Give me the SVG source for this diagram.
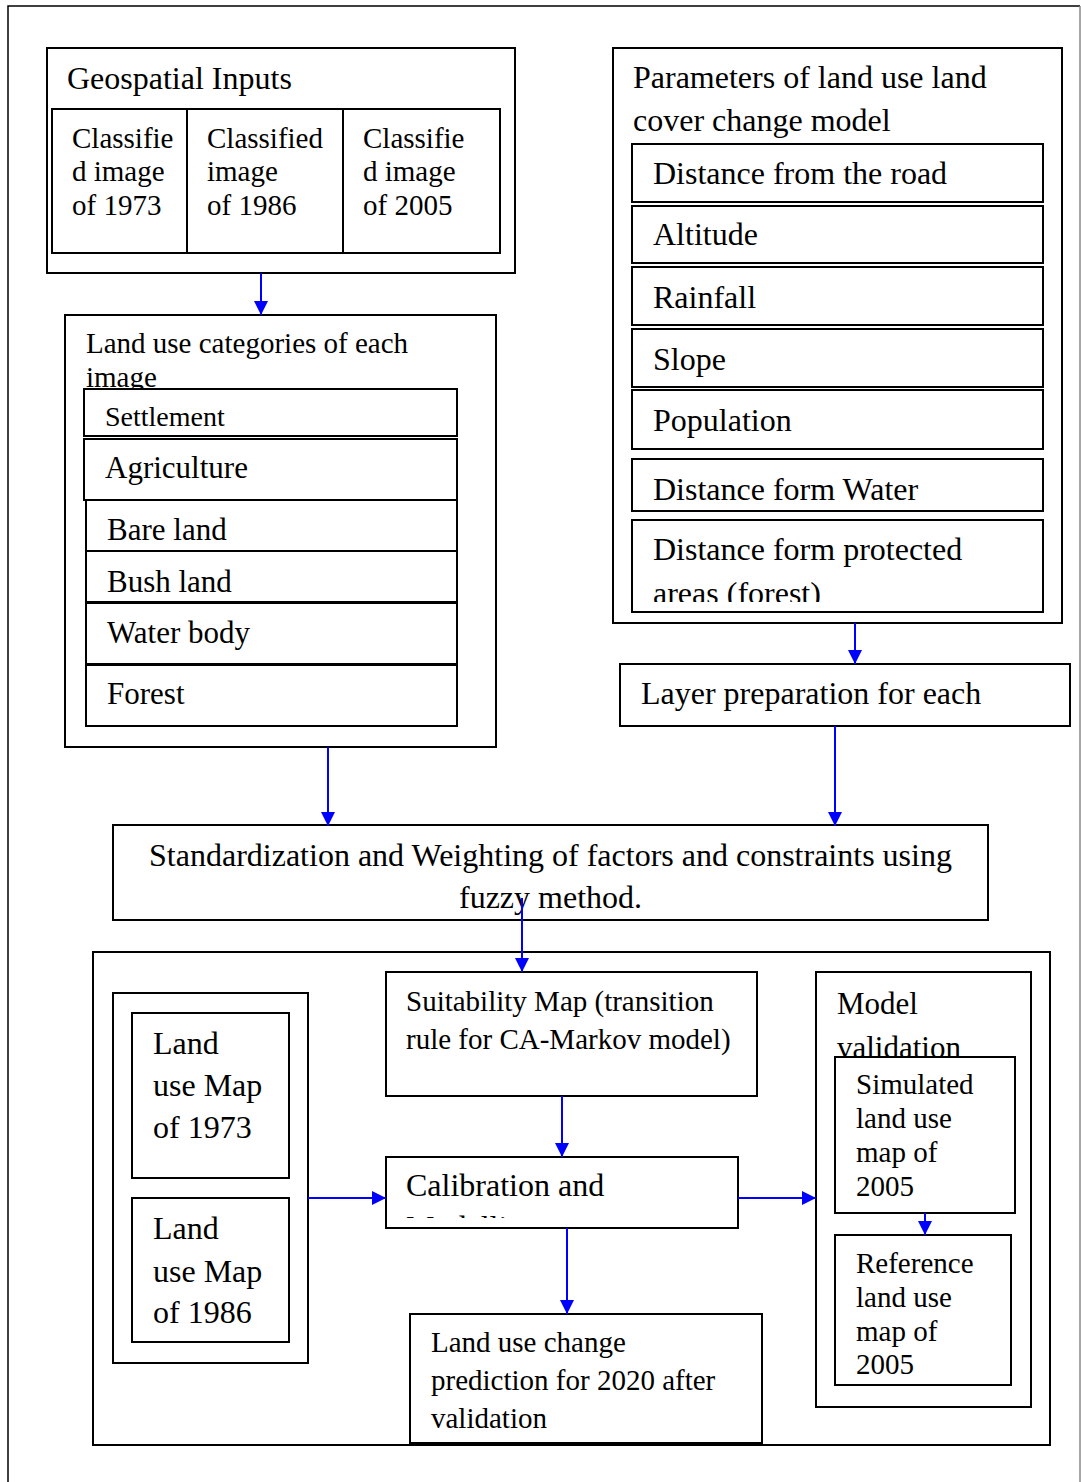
<svg xmlns="http://www.w3.org/2000/svg" width="1081" height="1482" viewBox="0 0 1081 1482" font-family="'Liberation Serif', 'Times New Roman', serif">
<style>
text{font-family:"Liberation Serif","Times New Roman",serif;fill:#000}
.f28{font-size:28px}.f29{font-size:29px}.f31{font-size:31px}.f32{font-size:32px}
.b{fill:#fff;stroke:#000;stroke-width:2}
.c{stroke:#0000ff;stroke-width:2;fill:none;marker-end:url(#ah)}
</style>
<defs>
<marker id="ah" markerUnits="userSpaceOnUse" markerWidth="14" markerHeight="14" refX="14" refY="7" orient="auto">
<path d="M0,0 L14,7 L0,14 z" fill="#0000ff"/>
</marker>
<clipPath id="clipForest"><rect x="630" y="520" width="415" height="82"/></clipPath>
<clipPath id="clipCal"><rect x="386" y="1157" width="352" height="61"/></clipPath>
</defs>
<rect width="1081" height="1482" fill="#fff"/>
<path d="M8,1490 V6 H1080" fill="none" stroke="#000" stroke-width="1.5"/>
<path d="M1080,6 V1490" fill="none" stroke="#888" stroke-width="1.5"/>

<g id="geospatial-inputs">
<rect class="b" x="47" y="48" width="468" height="225"/>
<text class="f32" x="67" y="89">Geospatial Inputs</text>
<rect class="b" x="52" y="109" width="135" height="144"/>
<rect class="b" x="187" y="109" width="156" height="144"/>
<rect class="b" x="343" y="109" width="157" height="144"/>
<text class="f29" x="72" y="148">Classifie</text>
<text class="f29" x="72" y="181">d image</text>
<text class="f29" x="72" y="215">of 1973</text>
<text class="f29" x="207" y="148">Classified</text>
<text class="f29" x="207" y="181">image</text>
<text class="f29" x="207" y="215">of 1986</text>
<text class="f29" x="363" y="148">Classifie</text>
<text class="f29" x="363" y="181">d image</text>
<text class="f29" x="363" y="215">of 2005</text>
</g>

<g id="land-use-categories">
<rect class="b" x="65" y="315" width="431" height="432"/>
<text class="f29" x="86" y="353">Land use categories of each</text>
<text class="f29" x="86" y="387">image</text>
<rect class="b" x="84" y="389" width="373" height="47"/>
<text class="f28" x="105" y="426">Settlement</text>
<rect class="b" x="84" y="439" width="373" height="61"/>
<text class="f31" x="105" y="478">Agriculture</text>
<rect class="b" x="86" y="500" width="371" height="51"/>
<text class="f31" x="107" y="540">Bare land</text>
<rect class="b" x="86" y="551" width="371" height="51"/>
<text class="f31" x="107" y="592">Bush land</text>
<rect class="b" x="86" y="603" width="371" height="61"/>
<text class="f31" x="107" y="643">Water body</text>
<rect class="b" x="86" y="665" width="371" height="61"/>
<text class="f31" x="107" y="704">Forest</text>
</g>

<g id="parameters">
<rect class="b" x="613" y="48" width="449" height="575"/>
<text class="f32" x="633" y="88">Parameters of land use land</text>
<text class="f32" x="633" y="131">cover change model</text>
<rect class="b" x="632" y="144" width="411" height="58"/>
<text class="f32" x="653" y="184">Distance from the road</text>
<rect class="b" x="632" y="206" width="411" height="57"/>
<text class="f32" x="653" y="245">Altitude</text>
<rect class="b" x="632" y="267" width="411" height="58"/>
<text class="f32" x="653" y="308">Rainfall</text>
<rect class="b" x="632" y="329" width="411" height="58"/>
<text class="f32" x="653" y="370">Slope</text>
<rect class="b" x="632" y="390" width="411" height="59"/>
<text class="f32" x="653" y="431">Population</text>
<rect class="b" x="632" y="459" width="411" height="52"/>
<text class="f32" x="653" y="500">Distance form Water</text>
<rect class="b" x="632" y="520" width="411" height="92"/>
<text class="f32" x="653" y="560">Distance form protected</text>
<text class="f32" x="653" y="604" clip-path="url(#clipForest)">areas (forest)</text>
</g>

<g id="layer-preparation">
<rect class="b" x="620" y="664" width="450" height="62"/>
<text class="f32" x="641" y="704">Layer preparation for each</text>
</g>

<g id="standardization">
<rect class="b" x="113" y="825" width="875" height="95"/>
<text class="f32" x="550.5" y="866" text-anchor="middle">Standardization and Weighting of factors and constraints using</text>
<text class="f32" x="550.5" y="908" text-anchor="middle">fuzzy method.</text>
</g>

<g id="modelling-frame">
<rect class="b" x="93" y="952" width="957" height="493"/>
</g>

<g id="land-use-maps">
<rect class="b" x="113" y="993" width="195" height="370"/>
<rect class="b" x="132" y="1013" width="157" height="165"/>
<text class="f32" x="153" y="1054">Land</text>
<text class="f32" x="153" y="1096">use Map</text>
<text class="f32" x="153" y="1138">of 1973</text>
<rect class="b" x="132" y="1198" width="157" height="144"/>
<text class="f32" x="153" y="1239">Land</text>
<text class="f32" x="153" y="1282">use Map</text>
<text class="f32" x="153" y="1323">of 1986</text>
</g>

<g id="suitability-map">
<rect class="b" x="386" y="972" width="371" height="124"/>
<text class="f29" x="406" y="1011">Suitability Map (transition</text>
<text class="f29" x="406" y="1049">rule for CA-Markov model)</text>
</g>

<g id="calibration">
<rect class="b" x="386" y="1157" width="352" height="71"/>
<text class="f32" x="406" y="1196">Calibration and</text>
<text class="f32" x="406" y="1238" clip-path="url(#clipCal)">Modelling</text>
</g>

<g id="prediction">
<rect class="b" x="410" y="1314" width="352" height="129"/>
<text class="f29" x="431" y="1352">Land use change</text>
<text class="f29" x="431" y="1390">prediction for 2020 after</text>
<text class="f29" x="431" y="1428">validation</text>
</g>

<g id="model-validation">
<rect class="b" x="816" y="972" width="215" height="435"/>
<text class="f31" x="837" y="1014">Model</text>
<text class="f31" x="837" y="1058">validation</text>
<rect class="b" x="835" y="1057" width="180" height="156"/>
<text class="f29" x="856" y="1094">Simulated</text>
<text class="f29" x="856" y="1128">land use</text>
<text class="f29" x="856" y="1162">map of</text>
<text class="f29" x="856" y="1196">2005</text>
<rect class="b" x="835" y="1235" width="176" height="150"/>
<text class="f29" x="856" y="1273">Reference</text>
<text class="f29" x="856" y="1307">land use</text>
<text class="f29" x="856" y="1341">map of</text>
<text class="f29" x="856" y="1374">2005</text>
</g>

<g id="connectors">
<path class="c" d="M261,273 V315"/>
<path class="c" d="M855,623 V664"/>
<path class="c" d="M328,747 V826"/>
<path class="c" d="M835,726 V826"/>
<path class="c" d="M522,898 V972"/>
<path class="c" d="M562,1096 V1157"/>
<path class="c" d="M308,1198 H386"/>
<path class="c" d="M738,1198 H816"/>
<path class="c" d="M567,1228 V1314"/>
<path class="c" d="M925,1213 V1235"/>
</g>
</svg>
